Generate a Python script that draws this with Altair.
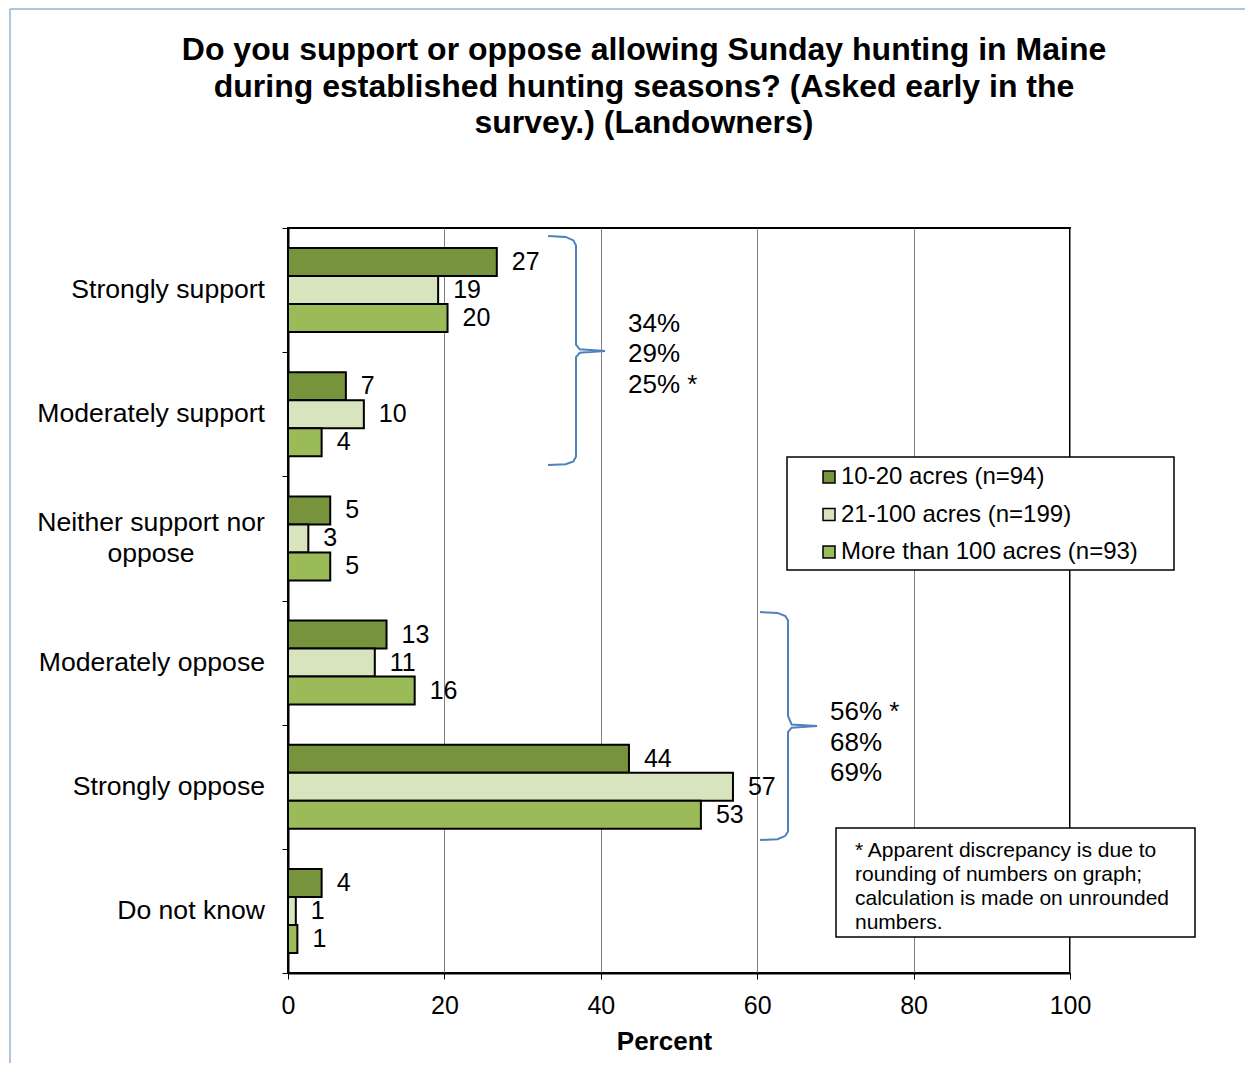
import altair as alt
import pandas as pd

# ---------------- data ----------------
categories = ["Strongly support", "Moderately support", "Neither support nor oppose",
              "Moderately oppose", "Strongly oppose", "Do not know"]
groups = ["10-20 acres (n=94)", "21-100 acres (n=199)", "More than 100 acres (n=93)"]
v_10_20 = [26.7, 7.4, 5.4, 12.6, 43.6, 4.3]
v_21_100 = [19.2, 9.7, 2.6, 11.1, 56.9, 1.0]
v_100plus = [20.4, 4.3, 5.4, 16.2, 52.8, 1.2]
colors = ["#77933C", "#D7E4BD", "#9BBB59"]

x_ticks = [0, 20, 40, 60, 80, 100]

title_lines = ["Do you support or oppose allowing Sunday hunting in Maine",
               "during established hunting seasons? (Asked early in the",
               "survey.) (Landowners)"]
support_totals = "34%\n29%\n25% *"
oppose_totals = "56% *\n68%\n69%"
footnote_lines = ["* Apparent discrepancy is due to",
                  "rounding of numbers on graph;",
                  "calculation is made on unrounded",
                  "numbers."]

# brace geometry (x in percent, y in category units from top)
brace1_x = [33.25, 35.5, 36.5, 36.83, 36.83, 37.3, 40.54, 37.3, 36.83, 36.83, 36.5, 35.5, 33.25]
brace1_y = [0.064, 0.072, 0.10, 0.14, 0.94, 0.977, 0.991, 1.005, 1.04, 1.84, 1.88, 1.902, 1.909]
brace2_x = [60.36, 62.6, 63.6, 63.94, 63.94, 64.4, 67.65, 64.4, 63.94, 63.94, 63.6, 62.6, 60.36]
brace2_y = [3.093, 3.10, 3.125, 3.16, 3.93, 3.998, 4.011, 4.024, 4.06, 4.86, 4.895, 4.922, 4.929]

rows = []
for g, vals in zip(groups, [v_10_20, v_21_100, v_100plus]):
    for c, v in zip(categories, vals):
        rows.append({"category": c, "group": g, "value": v})
df = pd.DataFrame(rows)

brace_rows = []
for bid, (bx, by) in enumerate([(brace1_x, brace1_y), (brace2_x, brace2_y)]):
    for i, (a, b) in enumerate(zip(bx, by)):
        brace_rows.append({"brace": bid, "idx": i, "bx": a, "by": b})
df_brace = pd.DataFrame(brace_rows)

df_ann = pd.DataFrame({"ax": [43.48, 69.31], "ay": [0.773, 3.898],
                       "txt": [support_totals, oppose_totals]})
df_cat = pd.DataFrame({"category": categories})
dummy = pd.DataFrame({"k": [0]})

FONT = "Liberation Sans"
W, H = 782, 745
RIGHT = 175

xscale = alt.Scale(domain=[0, 100], nice=False, zero=True)
xaxis = alt.Axis(values=x_ticks, grid=True, gridColor="#808080", gridWidth=1,
                 domainColor="black", domainWidth=2, tickColor="black", tickSize=6,
                 tickWidth=1, labelFontSize=25, labelFont=FONT, labelColor="black",
                 labelPadding=14, labelFlush=False, format="d",
                 title="Percent", titleFontSize=26, titleFont=FONT, titleFontWeight="bold",
                 titleColor="black", titlePadding=10, titleX=376)
yband = alt.Scale(domain=categories, paddingInner=0.3235, paddingOuter=0.1618)
yoff = alt.Scale(domain=groups, paddingInner=0, paddingOuter=0)
yq = alt.Scale(domain=[0, 6], reverse=True, nice=False, zero=False)
yq_axis = alt.Axis(orient="left", values=[0, 1, 2, 3, 4, 5, 6], labels=False, grid=False,
                   ticks=True, tickSize=6, tickColor="black", tickWidth=1,
                   domain=True, domainColor="black", domainWidth=2, title=None)

bars = alt.Chart(df).mark_bar(stroke="black", strokeWidth=2).encode(
    x=alt.X("value:Q", scale=xscale, axis=xaxis),
    y=alt.Y("category:N", scale=yband, axis=None, sort=categories),
    yOffset=alt.YOffset("group:N", scale=yoff, sort=groups),
    color=alt.Color("group:N", scale=alt.Scale(domain=groups, range=colors), sort=groups,
                    legend=alt.Legend(title=None, orient="none", legendX=529, legendY=237,
                                      direction="vertical", symbolType="square",
                                      symbolSize=144, symbolStrokeColor="black",
                                      symbolStrokeWidth=1.5, symbolOpacity=1,
                                      labelFontSize=24, labelFont=FONT, labelColor="black",
                                      labelLimit=0, labelOffset=0, rowPadding=13.5,
                                      padding=0)),
)

vlabels = alt.Chart(df).mark_text(align="left", baseline="middle", dx=15, fontSize=25,
                                  font=FONT, color="black").encode(
    x=alt.X("value:Q", scale=xscale, axis=xaxis),
    y=alt.Y("category:N", scale=yband, axis=None, sort=categories),
    yOffset=alt.YOffset("group:N", scale=yoff, sort=groups),
    text=alt.Text("value:Q", format=".0f"),
)

cat_single = alt.Chart(df_cat).transform_filter(
    alt.datum.category != "Neither support nor oppose"
).mark_text(align="right", baseline="middle", fontSize=26.6, font=FONT, color="black").encode(
    x=alt.value(-23),
    y=alt.Y("category:N", scale=yband, axis=None, sort=categories),
    text="category:N",
)
cat_multi = alt.Chart(df_cat).transform_filter(
    alt.datum.category == "Neither support nor oppose"
).transform_calculate(
    lab="'Neither support nor\\noppose'"
).mark_text(align="center", baseline="middle", fontSize=26.6, font=FONT, color="black",
            lineBreak="\n", lineHeight=31, dy=-15).encode(
    x=alt.value(-137),
    y=alt.Y("category:N", scale=yband, axis=None, sort=categories),
    text="lab:N",
)

band_layer = alt.layer(bars, vlabels, cat_single, cat_multi)

braces = alt.Chart(df_brace).mark_line(color="#4F81BD", strokeWidth=2).encode(
    x=alt.X("bx:Q", scale=xscale, axis=xaxis),
    y=alt.Y("by:Q", scale=yq, axis=yq_axis),
    detail="brace:N",
    order="idx:Q",
)
ann = alt.Chart(df_ann).mark_text(align="left", baseline="middle", fontSize=26, font=FONT,
                                  color="black", lineBreak="\n", lineHeight=30.5).encode(
    x=alt.X("ax:Q", scale=xscale, axis=xaxis),
    y=alt.Y("ay:Q", scale=yq, axis=yq_axis),
    text="txt:N",
)
q_layer = alt.layer(braces, ann)

legend_box = alt.Chart(dummy).mark_rect(fill="white", stroke="black", strokeWidth=1.5).encode(
    x=alt.value(499), x2=alt.value(886), y=alt.value(229), y2=alt.value(342))
foot_box = alt.Chart(dummy).mark_rect(fill="white", stroke="black", strokeWidth=1.5).encode(
    x=alt.value(548), x2=alt.value(907), y=alt.value(600), y2=alt.value(709))
foot_text = alt.Chart(dummy).mark_text(align="left", baseline="middle", fontSize=21, font=FONT,
                                       color="black", lineHeight=24,
                                       text=footnote_lines).encode(
    x=alt.value(567), y=alt.value(623))
title = alt.Chart(dummy).mark_text(align="center", baseline="middle", fontSize=32, font=FONT,
                                   fontWeight="bold", color="black", lineHeight=36.5,
                                   text=title_lines).encode(
    x=alt.value(356), y=alt.value(-178))
frame_left = alt.Chart(dummy).mark_rule(color="#95B3D7", strokeWidth=1.5).encode(
    x=alt.value(-278), y=alt.value(-219), y2=alt.value(H + 95))
frame_top = alt.Chart(dummy).mark_rule(color="#95B3D7", strokeWidth=1.5).encode(
    x=alt.value(-278), x2=alt.value(W + RIGHT), y=alt.value(-219))

chart = alt.layer(
    frame_left, frame_top, band_layer, q_layer, legend_box, foot_box, foot_text, title
).resolve_scale(y="independent").properties(
    width=W, height=H,
    autosize=alt.AutoSizeParams(type="none"),
    padding={"left": 280, "top": 220, "right": RIGHT, "bottom": 90},
).configure_view(stroke="black", strokeWidth=2)

chart.save("out.html", embed_options={"renderer": "svg", "actions": False})
